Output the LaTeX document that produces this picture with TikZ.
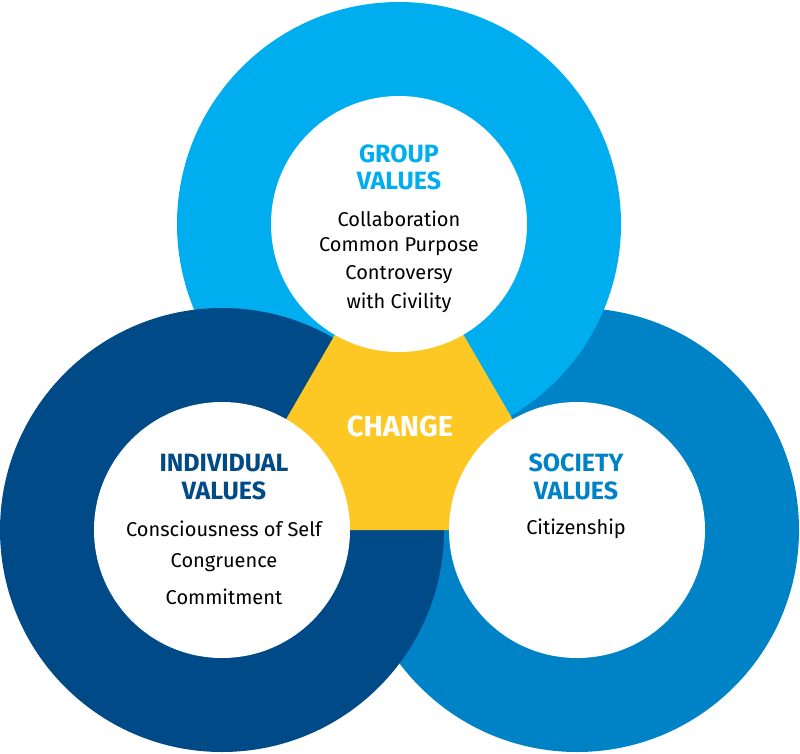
\documentclass[tikz,border=0pt]{standalone}
\usepackage{fontspec}
\setmainfont{Fira Sans}
\definecolor{groupblue}{HTML}{00AEEF}
\definecolor{indivblue}{HTML}{004A87}
\definecolor{socblue}{HTML}{0082C6}
\definecolor{changegold}{HTML}{FDC823}
\tikzset{every picture/.style={line width=0.75pt}}
\tikzset{
  head/.style={inner sep=0pt, font=\fontsize{25}{25}\selectfont\bfseries},
  item/.style={inner sep=0pt, font=\fontsize{20}{20}\selectfont, text=black},
}

\begin{document}
\begin{tikzpicture}[x=1pt,y=1pt,yscale=-1,xscale=1]
\useasboundingbox (0,0) rectangle (800,753);

% centres of the three rings
\coordinate (G) at (399,224);
\coordinate (I) at (222,530);
\coordinate (S) at (577,530);

% outer discs
\fill [socblue] (S) circle (222);
\fill [groupblue] (G) circle (222);
\fill [indivblue] (I) circle (222);
% centre triangle
\fill [changegold] (G) -- (I) -- (S) -- cycle;
% inner discs
\fill [white] (G) circle (128);
\fill [white] (I) circle (128);
\fill [white] (S) circle (128);

% Text Node
\node [inner sep=0pt, text=white, font=\fontsize{29}{29}\selectfont\bfseries] (change) at (400,426) {CHANGE};

% Group values
\node [head, text=groupblue] (ghead1) at (399,154) {GROUP};
\node [head, text=groupblue] (ghead2) at (399,181) {VALUES};
\node [item] (g1) at (399,219) {Collaboration};
\node [item] (g2) at (399,247) {Common Purpose};
\node [item] (g3) at (399,275) {Controversy};
\node [item] (g4) at (399,303) {with Civility};

% Individual values
\node [head, text=indivblue] (ihead1) at (224,463) {INDIVIDUAL};
\node [head, text=indivblue] (ihead2) at (224,491) {VALUES};
\node [item] (i1) at (224,529) {Consciousness of Self};
\node [item] (i2) at (224,563) {Congruence};
\node [item] (i3) at (224,597) {Commitment};

% Society values
\node [head, text=socblue] (shead1) at (576,463) {SOCIETY};
\node [head, text=socblue] (shead2) at (576,491) {VALUES};
\node [item] (s1) at (576,529) {Citizenship};

\end{tikzpicture}
\end{document}
